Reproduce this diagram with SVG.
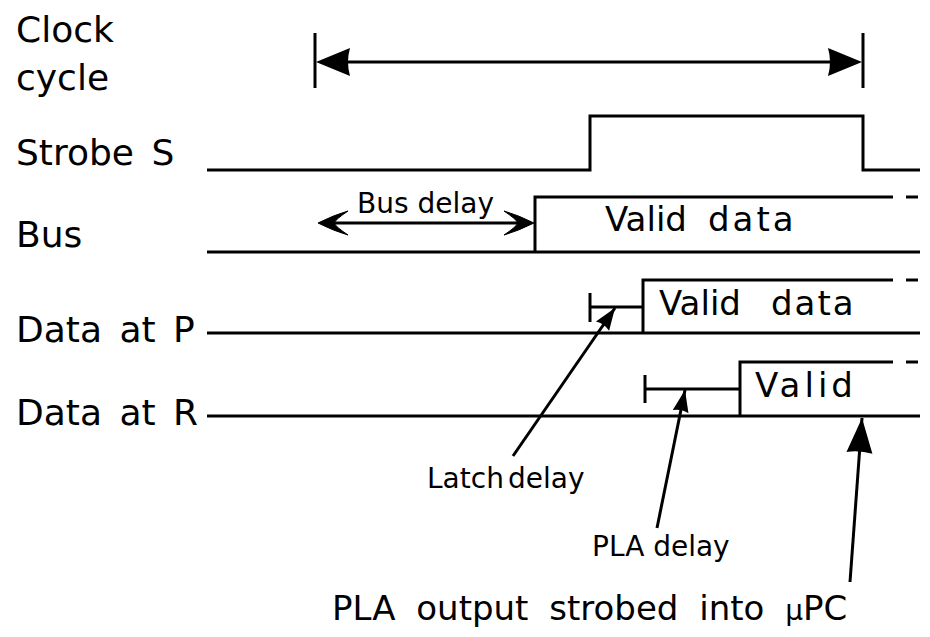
<svg xmlns="http://www.w3.org/2000/svg" width="930" height="637" viewBox="0 0 930 637">
<style>
.sig{fill:none;stroke:#000;stroke-width:3;stroke-linejoin:miter}
.ln{fill:none;stroke:#000;stroke-width:3}
.lbl{font-family:"DejaVu Sans",sans-serif;font-size:36px;fill:#000;word-spacing:6px}
.val{font-family:"DejaVu Sans",sans-serif;font-size:34px;fill:#000}
.sm{font-family:"DejaVu Sans",sans-serif;font-size:28px;fill:#000}
.big{font-family:"DejaVu Sans",sans-serif;font-size:34px;fill:#000;word-spacing:10px}
</style>
<defs>
<marker id="ah" markerUnits="userSpaceOnUse" markerWidth="24" markerHeight="16" refX="22" refY="8" orient="auto" overflow="visible">
<path d="M0,0 L22,8 L0,16 Q3,8 0,0 Z" fill="#000"/>
</marker>
<marker id="ahb" markerUnits="userSpaceOnUse" markerWidth="36" markerHeight="26" refX="35" refY="13" orient="auto" overflow="visible">
<path d="M0,0 L35,13 L0,26 Q3,13 0,0 Z" fill="#000"/>
</marker>
</defs>
<rect width="930" height="637" fill="#fff"/>
<g id="labels">
<text class="lbl" x="16" y="42">Clock</text>
<text class="lbl" x="16" y="90">cycle</text>
<text class="lbl" x="16" y="165">Strobe  S</text>
<text class="lbl" x="16" y="247">Bus</text>
<text class="lbl" x="16" y="342">Data at P</text>
<text class="lbl" x="16" y="425">Data at R</text>
</g>
<g id="clock-cycle">
<line class="ln" x1="315" y1="33" x2="315" y2="88"/>
<line class="ln" x1="863" y1="33" x2="863" y2="88"/>
<line class="ln" x1="345" y1="62" x2="833" y2="62"/>
<path d="M316,62 L350,48 Q346,62 350,76 Z" fill="#000"/>
<path d="M862,62 L828,48 Q832,62 828,76 Z" fill="#000"/>
</g>
<g id="strobe">
<polyline class="sig" points="207,170 590,170 590,116 863,116 863,170 920,170"/>
</g>
<g id="bus">
<line class="sig" x1="207" y1="252" x2="920" y2="252"/>
<polyline class="sig" points="535,252 535,197 893,197"/>
<line class="sig" x1="906" y1="197" x2="918" y2="197"/>
<text class="val" x="605" y="231">Valid</text>
<text class="val" x="708" y="231" letter-spacing="3">data</text>
</g>
<g id="bus-delay">
<line class="ln" x1="330" y1="223" x2="522" y2="223"/>
<path d="M318,223 Q334,215 348,211 Q336,219 334,223 Q336,227 348,235 Q334,231 318,223 Z" fill="#000" stroke="#000" stroke-width="1"/>
<path d="M534,223 Q518,215 504,211 Q516,219 518,223 Q516,227 504,235 Q518,231 534,223 Z" fill="#000" stroke="#000" stroke-width="1"/>
<text class="sm" x="357" y="213">Bus delay</text>
</g>
<g id="data-p">
<line class="sig" x1="207" y1="333" x2="920" y2="333"/>
<polyline class="sig" points="643,333 643,280 893,280"/>
<line class="sig" x1="906" y1="280" x2="918" y2="280"/>
<line class="ln" x1="590" y1="293" x2="590" y2="322"/>
<line class="ln" x1="590" y1="307" x2="643" y2="307"/>
<text class="val" x="659" y="315">Valid</text>
<text class="val" x="771" y="315" letter-spacing="2">data</text>
</g>
<g id="data-r">
<line class="sig" x1="207" y1="416" x2="920" y2="416"/>
<polyline class="sig" points="740,416 740,362 893,362"/>
<line class="sig" x1="906" y1="362" x2="918" y2="362"/>
<line class="ln" x1="645" y1="375" x2="645" y2="403"/>
<line class="ln" x1="645" y1="389" x2="740" y2="389"/>
<text class="val" x="755" y="397" letter-spacing="4">Valid</text>
</g>
<g id="connectors">
<line class="ln" x1="513" y1="456" x2="615" y2="308" marker-end="url(#ah)"/>
<line class="ln" x1="657" y1="528" x2="685" y2="390" marker-end="url(#ah)"/>
<line class="ln" x1="850" y1="582" x2="862" y2="418" marker-end="url(#ahb)"/>
</g>
<g id="annotations">
<text class="sm" x="427" y="488">Latch<tspan x="508">delay</tspan></text>
<text class="sm" x="592" y="556">PLA delay</text>
<text class="big" x="332" y="620">PLA output strobed into <tspan font-size="28">μ</tspan>PC</text>
</g>
</svg>
